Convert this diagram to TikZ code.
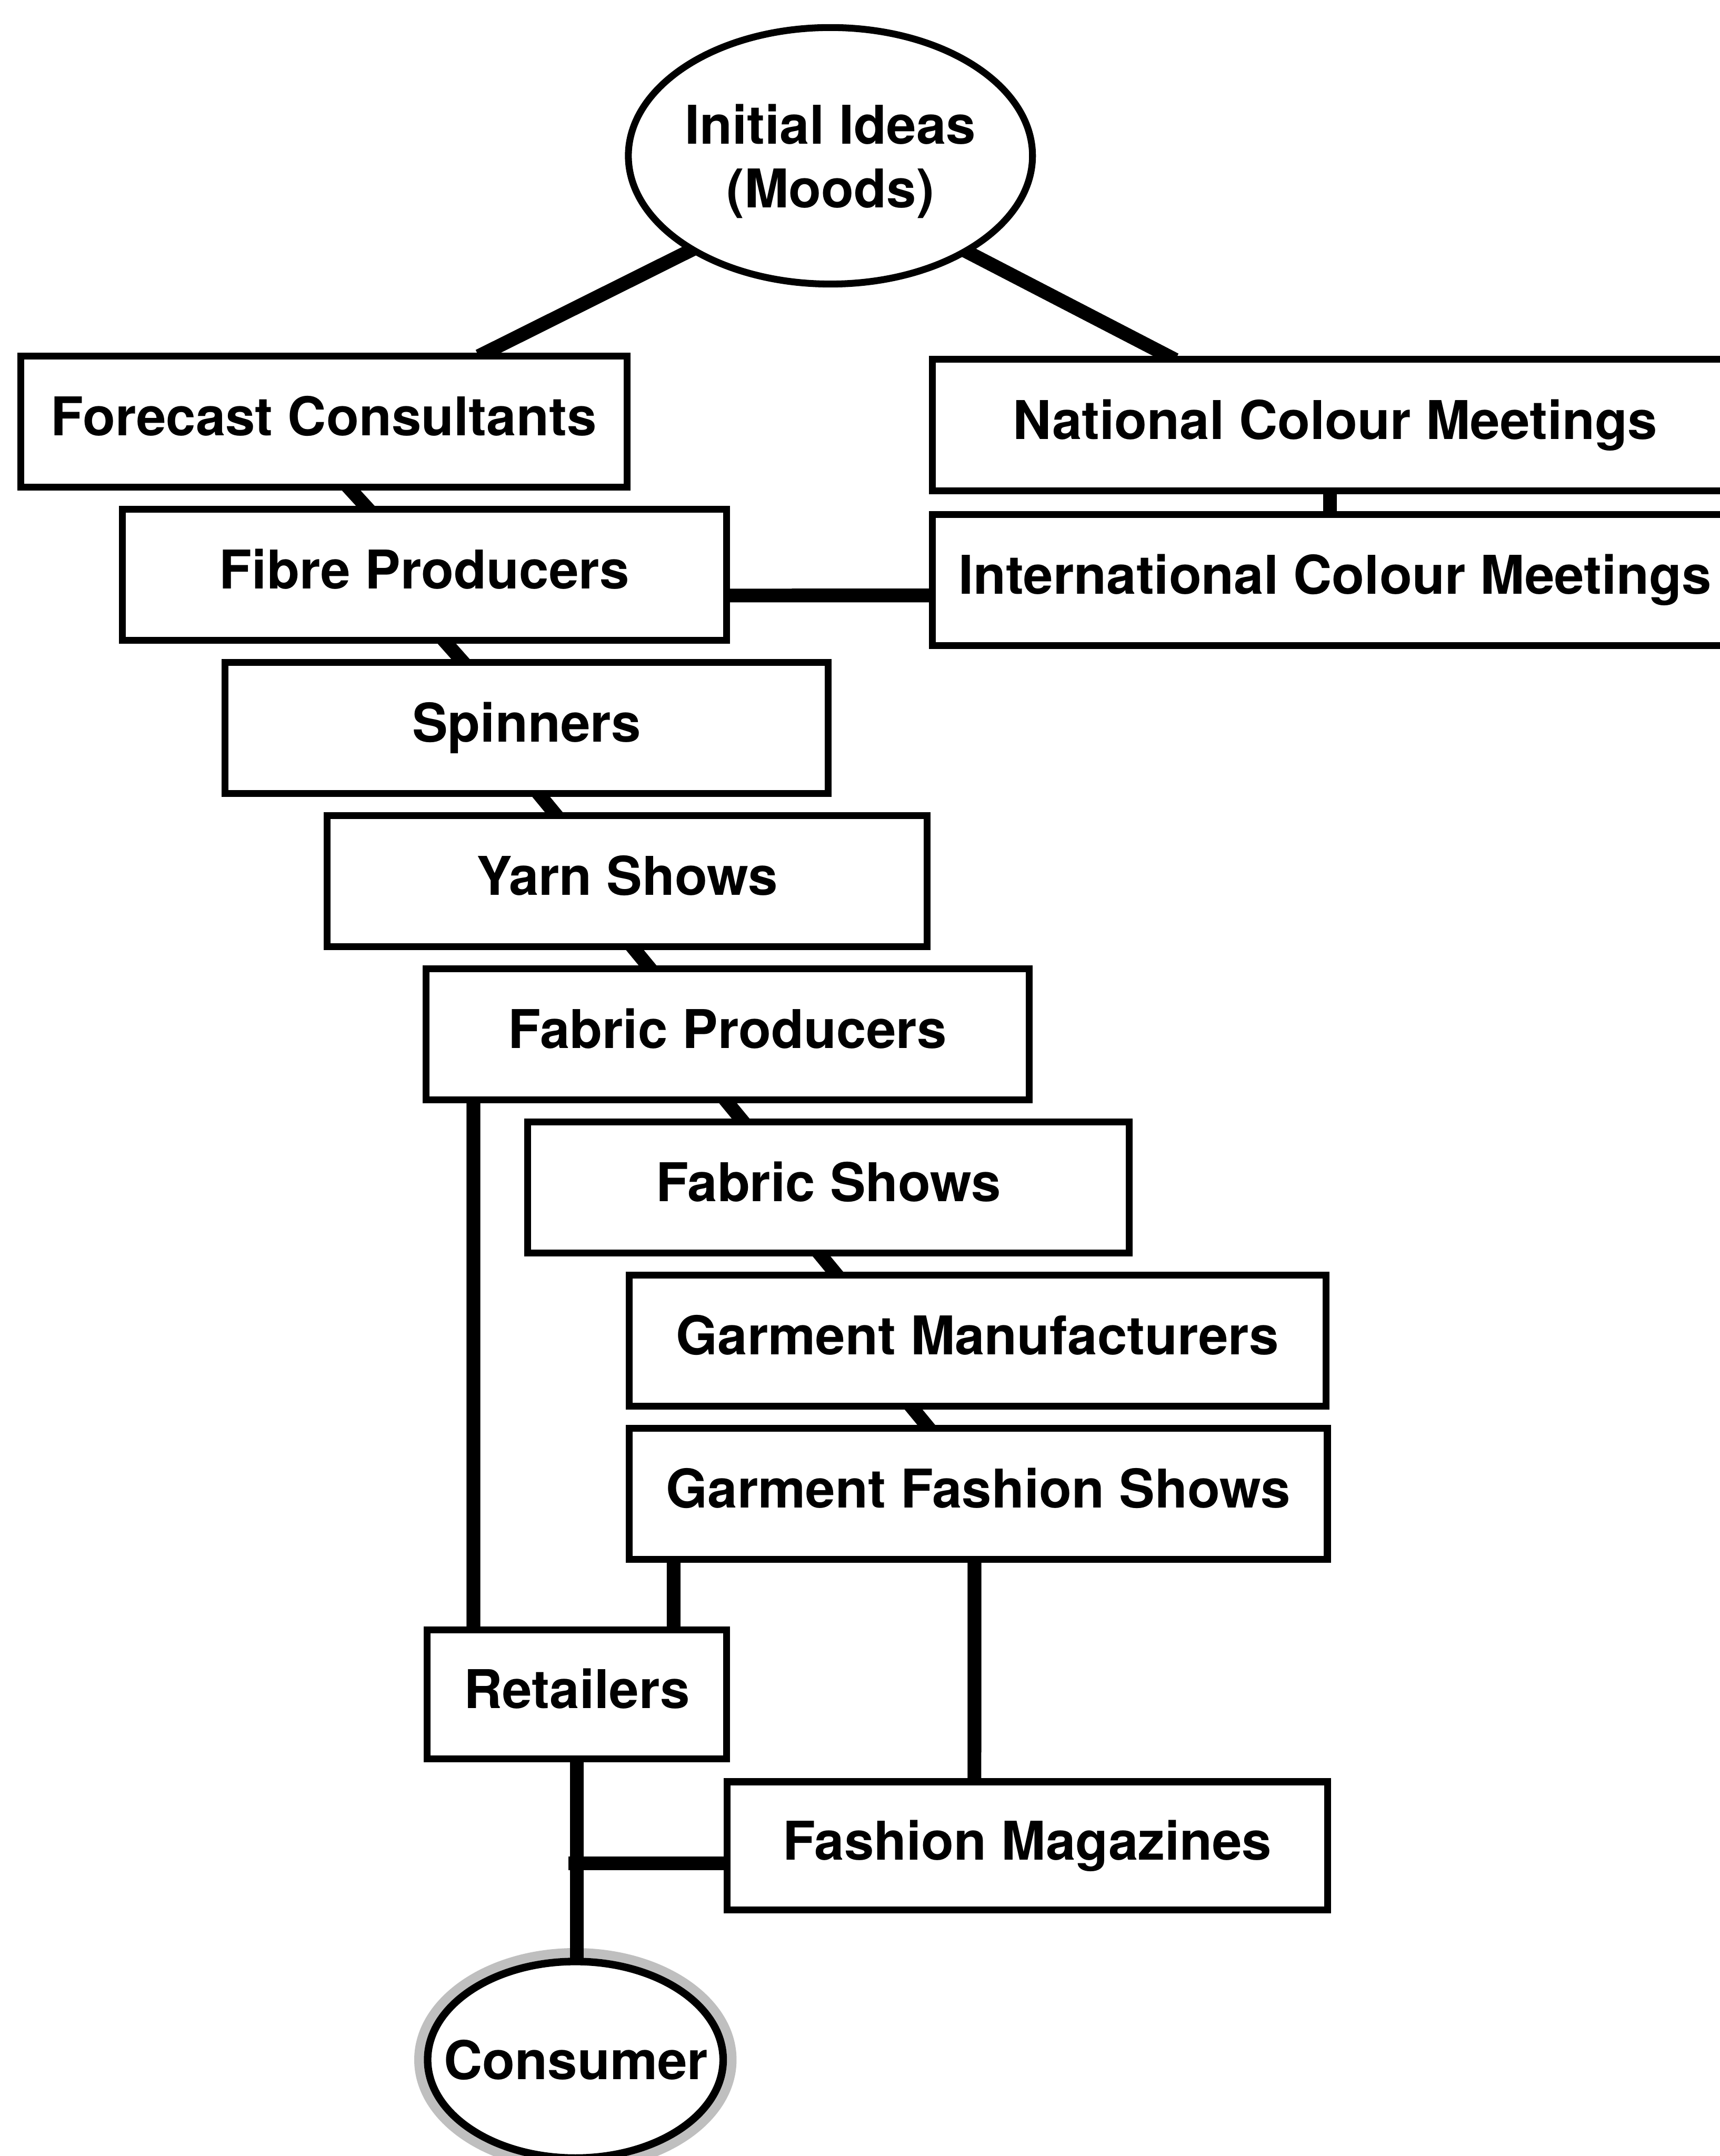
\documentclass[tikz,border=0pt]{standalone}
\usepackage{fontspec}
\setmainfont{TeX Gyre Heros}
\usetikzlibrary{shapes.geometric,calc,backgrounds}
\begin{document}
\begin{tikzpicture}[x=0.02cm,y=-0.02cm,
  lbl/.style={font=\fontsize{22.1pt}{26.3pt}\selectfont\bfseries},
  stage/.style={draw, line width=0.1cm, fill=white, rectangle, lbl, inner sep=0pt,
    text height=0.5cm, text depth=0.09cm, minimum height=1.91cm},
  oval/.style={draw, ellipse, line width=0.1cm, fill=white, inner sep=0pt},
  link/.style={line width=0.2cm, line cap=butt, shorten <=-0.12cm, shorten >=-0.12cm},
  halo/.style={draw=gray!50, line width=0.14cm}]

\useasboundingbox (0,0) rectangle (1251,1568);
\clip (0,0) rectangle (1251,1568);

% top idea bubble
\node[oval, minimum width=5.88cm, minimum height=3.732cm] (ideas) at (604,113.3) {};
\node[lbl, anchor=base] (ideasA) at (604,104.8) {Initial Ideas};
\node[lbl, anchor=base] (ideasB) at (604,151) {(Moods)};

% colour meetings (run off the right edge)
\node[stage, minimum width=11.72cm] (nat)  at (971,309.1) {National Colour Meetings};
\node[stage, minimum width=11.72cm] (intl) at (971,421.9) {International Colour Meetings};

% the staircase of stages
\node[stage, minimum width=8.82cm]  (fc)    at (235.5,306.55)  {Forecast Consultants};
\node[stage, minimum width=8.788cm] (fibre) at (308.7,417.95)  {Fibre Producers};
\node[stage, minimum width=8.78cm]  (spin)  at (383,529.35)    {Spinners};
\node[stage, minimum width=8.73cm]  (yarn)  at (456.25,640.75) {Yarn Shows};
\node[stage, minimum width=8.776cm] (fp)    at (529.1,752.15)  {Fabric Producers};
\node[stage, minimum width=8.758cm] (fs)    at (602.55,863.55) {Fabric Shows};
\node[stage, minimum width=10.14cm] (gm)    at (711,974.95)    {Garment Manufacturers};
\node[stage, minimum width=10.16cm] (gfs)   at (711.5,1086.35) {Garment Fashion Shows};

% retail end
\node[stage, minimum width=4.362cm, minimum height=1.876cm] (ret) at (419.55,1232.1) {Retailers};
\node[stage, minimum width=8.736cm, minimum height=1.864cm] (fm)  at (747.1,1342.4) {Fashion Magazines};

% consumer bubble
\node[oval, line width=0.11cm, minimum width=4.3cm, minimum height=2.86cm] (cons) at (418.5,1498) {};
\node[lbl, anchor=base] (consT) at (419,1512.3) {Consumer};

\begin{pgfonlayer}{background}
  % soft ring round the consumer
  \draw[halo] (cons.center) ellipse [x radius=2.275cm, y radius=1.555cm];

  % from the initial ideas
  \draw[link] (ideas.214) -- ($(fc.north west)+(341,0)$);
  \draw[link] (ideas.325) -- ($(nat.north west)+(174,0)$);

  % colour meetings
  \draw[link] ($(nat.south west)+(291.7,0)$) -- ($(intl.north west)+(291.7,0)$);
  \draw[link] ($(fibre.south east)+(0,-35.1)$) -- ($(intl.south west)+(0,-39.1)$);

  % staircase links
  \draw[link] ($(fc.south west)+(243,0)$)      -- ($(fibre.north west)+(179,0)$);
  \draw[link] ($(fibre.south west)+(238.5,0)$) -- ($(spin.north west)+(173.7,0)$);
  \draw[link] ($(spin.south west)+(232.6,0)$)  -- ($(yarn.north west)+(167.1,0)$);
  \draw[link] ($(yarn.south west)+(226.3,0)$)  -- ($(fp.north west)+(163.6,0)$);
  \draw[link] ($(fp.south west)+(222.3,0)$)    -- ($(fs.north west)+(157.4,0)$);
  \draw[link] ($(fs.south west)+(216.5,0)$)    -- ($(gm.north west)+(151.6,0)$);
  \draw[link] ($(gm.south west)+(209.5,0)$)    -- ($(gfs.north west)+(218.5,0)$);

  % down to retail and the consumer
  \draw[link] ($(fp.south west)+(37.1,0)$)   -- ($(ret.north west)+(36.3,0)$);
  \draw[link] ($(gfs.south west)+(34.9,0)$)  -- ($(ret.north west)+(181.9,0)$);
  \draw[link] ($(gfs.south west)+(253.7,0)$) -- ($(fm.north west)+(182.5,0)$);
  \draw[link] (ret.south) -- (ret.south |- cons.north);
  \coordinate (magjoin) at ($(fm.south west)+(0,-36.5)$);
  \draw[link] (magjoin) -- (magjoin -| ret.south);
\end{pgfonlayer}
\end{tikzpicture}
\end{document}
